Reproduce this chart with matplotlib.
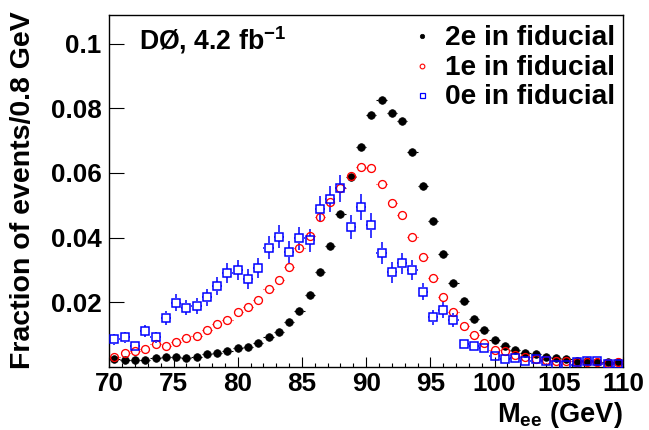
import numpy as np
import matplotlib
matplotlib.use("Agg")
import matplotlib.pyplot as plt
from matplotlib.collections import LineCollection

plt.rcParams["font.family"] = ["Liberation Sans", "DejaVu Sans"]
plt.rcParams["font.weight"] = "bold"
plt.rcParams["mathtext.fontset"] = "custom"
plt.rcParams["mathtext.rm"] = "Liberation Sans:bold"
plt.rcParams["mathtext.it"] = "Liberation Sans:bold"
plt.rcParams["mathtext.bf"] = "Liberation Sans:bold"
plt.rcParams["mathtext.default"] = "rm"

# Di-electron invariant mass, 50 bins of 0.8 GeV between 70 and 110 GeV
bin_edges = np.linspace(70.0, 110.0, 51)
mass = 0.5 * (bin_edges[:-1] + bin_edges[1:])

frac_2e = [0.0023, 0.0021, 0.0021, 0.0020, 0.0027, 0.0030, 0.0031, 0.0028, 0.0031, 0.0039,
           0.0044, 0.0049, 0.0058, 0.0062, 0.0073, 0.0091, 0.0109, 0.0140, 0.0172, 0.0223,
           0.0293, 0.0375, 0.0472, 0.0588, 0.0679, 0.0778, 0.0824, 0.0784, 0.0761, 0.0664,
           0.0561, 0.0452, 0.0350, 0.0259, 0.0203, 0.0149, 0.0114, 0.0083, 0.0064, 0.0053,
           0.0042, 0.0039, 0.0032, 0.0027, 0.0023, 0.0018, 0.0018, 0.0016, 0.0015, 0.0016]

frac_1e = [0.0032, 0.0042, 0.0048, 0.0054, 0.0070, 0.0064, 0.0078, 0.0088, 0.0096, 0.0113,
           0.0132, 0.0146, 0.0169, 0.0184, 0.0207, 0.0241, 0.0268, 0.0310, 0.0367, 0.0405,
           0.0465, 0.0511, 0.0552, 0.0591, 0.0618, 0.0615, 0.0566, 0.0506, 0.0470, 0.0401,
           0.0341, 0.0276, 0.0215, 0.0171, 0.0128, 0.0099, 0.0075, 0.0052, 0.0049, 0.0037,
           0.0031, 0.0023, 0.0021, 0.0019, 0.0018, 0.0016, 0.0016, 0.0014, 0.0013, 0.0014]

frac_0e = [0.0085, 0.0091, 0.0066, 0.0111, 0.0091, 0.0152, 0.0199, 0.0183, 0.0189, 0.0215,
           0.0249, 0.0290, 0.0300, 0.0272, 0.0306, 0.0369, 0.0403, 0.0354, 0.0398, 0.0392,
           0.0489, 0.0519, 0.0553, 0.0434, 0.0495, 0.0438, 0.0353, 0.0292, 0.0320, 0.0301,
           0.0233, 0.0153, 0.0176, 0.0146, 0.0072, 0.0066, 0.0060, 0.0035, 0.0023, 0.0027,
           0.0019, 0.0024, 0.0019, 0.0006, 0.0006, 0.0015, 0.0019, 0.0017, 0.0008, 0.0008]

err_0e = [0.0017, 0.0017, 0.0015, 0.0019, 0.0017, 0.0022, 0.0025, 0.0024, 0.0025, 0.0026,
          0.0028, 0.0031, 0.0031, 0.0030, 0.0031, 0.0035, 0.0036, 0.0034, 0.0036, 0.0036,
          0.0040, 0.0041, 0.0042, 0.0037, 0.0040, 0.0038, 0.0034, 0.0031, 0.0032, 0.0031,
          0.0027, 0.0022, 0.0024, 0.0022, 0.0015, 0.0015, 0.0014, 0.0011, 0.0009, 0.0009,
          0.0008, 0.0009, 0.0008, 0.0004, 0.0004, 0.0007, 0.0008, 0.0007, 0.0005, 0.0005]

labels = ["2e in fiducial", "1e in fiducial", "0e in fiducial"]
xticks = [70, 75, 80, 85, 90, 95, 100, 105, 110]
yticks = [0.02, 0.04, 0.06, 0.08, 0.1]
ytick_labels = ["0.02", "0.04", "0.06", "0.08", "0.1"]

W, H = 649, 430
fig = plt.figure(figsize=(W / 100, H / 100), dpi=100)
ax = fig.add_axes([109.3 / W, 1 - 366.9 / H, (623.0 - 109.3) / W, (366.9 - 14.5) / H])
ax.set_xlim(70, 110)
ax.set_ylim(0, 0.109)

px_x = ax.bbox.width / 40.0
px_y = ax.bbox.height / 0.109


def error_segments(x, y, half_w, yerr, gap_px):
    """Error bar pieces that stop at the marker edge (hollow markers stay clean)."""
    gx = gap_px / px_x
    gy = gap_px / px_y
    segs = []
    for i, (xi, yi) in enumerate(zip(x, y)):
        if half_w > gx:
            segs.append([(xi - half_w, yi), (xi - gx, yi)])
            segs.append([(xi + gx, yi), (xi + half_w, yi)])
        if yerr is not None and yerr[i] > gy:
            segs.append([(xi, yi + gy), (xi, yi + yerr[i])])
            segs.append([(xi, yi - gy), (xi, yi - yerr[i])])
    return segs


half_bin = 0.4
ax.add_collection(LineCollection(error_segments(mass, frac_2e, half_bin, None, 3.7),
                                 colors="black", linewidths=0.8, zorder=2))
ax.add_collection(LineCollection(error_segments(mass, frac_1e, half_bin, None, 4.4),
                                 colors="red", linewidths=0.8, zorder=2))
ax.add_collection(LineCollection(error_segments(mass, frac_0e, half_bin, err_0e, 4.3),
                                 colors="blue", linewidths=1.1, zorder=2))

ax.plot(mass, frac_2e, ls="none", marker="o", ms=5.5, mfc="black", mec="black", mew=0.5, zorder=3)
ax.plot(mass, frac_1e, ls="none", marker="o", ms=5.7, mfc="none", mec="red", mew=0.95, zorder=3)
ax.plot(mass, frac_0e, ls="none", marker="s", ms=5.2, mfc="none", mec="blue", mew=1.1, zorder=4)

# Axis styling
for sp in ax.spines.values():
    sp.set_linewidth(1.0)
ax.set_xticks(xticks)
ax.set_xticklabels([str(t) for t in xticks])
ax.set_xticks(np.arange(70, 111, 1), minor=True)
ax.set_yticks(yticks)
ax.set_yticklabels(ytick_labels)
ax.tick_params(axis="x", which="major", direction="in", length=7.2, width=0.8,
               labelsize=18.8, pad=4, top=False)
ax.tick_params(axis="x", which="minor", direction="in", length=3.2, width=0.8, top=False)
ax.tick_params(axis="y", which="major", direction="in", length=11, width=0.8,
               labelsize=18.8, pad=5.5, right=False)
ax.tick_params(axis="y", which="minor", left=False, right=False)
for lab in ax.get_xticklabels() + ax.get_yticklabels():
    lab.set_fontweight("bold")

fig.text(623.0 / W, 1 - 421.7 / H, r"M$_{ee}$ (GeV)", ha="right", va="baseline",
         fontsize=19.6, fontweight="bold")
fig.text(10.0 / W, 1 - 11.0 / H, "Fraction of events/0.8 GeV", rotation=90,
         ha="left", va="top", fontsize=20.5, fontweight="bold")

ax.text(0.058, 0.901, r"DØ, 4.2 fb$^{-1}$", transform=ax.transAxes, ha="left",
        va="baseline", fontsize=19.2, fontweight="bold")

# Legend entries
handles = [
    dict(marker="o", ms=3.2, mfc="black", mec="black", mew=0.5),
    dict(marker="o", ms=3.4, mfc="none", mec="red", mew=0.8),
    dict(marker="s", ms=3.6, mfc="none", mec="blue", mew=0.9),
]
marker_y = [0.940, 0.853, 0.771]
text_y = [0.914, 0.827, 0.745]
for h, my, ty, lab in zip(handles, marker_y, text_y, labels):
    ax.plot([0.608], [my], ls="none", transform=ax.transAxes, clip_on=False, **h)
    ax.text(0.653, ty, lab, transform=ax.transAxes, ha="left", va="baseline",
            fontsize=20.2, fontweight="bold")

fig.savefig("out.png", dpi=100)
